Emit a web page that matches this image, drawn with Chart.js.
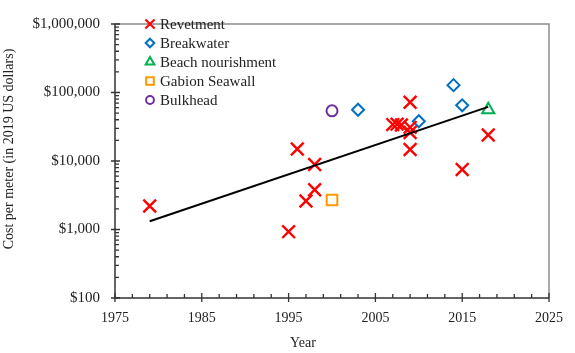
<!DOCTYPE html>
<html><head><meta charset="utf-8">
<script src="https://cdn.jsdelivr.net/npm/chart.js@4/dist/chart.umd.min.js"></script>
<style>html,body{margin:0;padding:0;background:#fff}#wrap{width:575px;height:353px}</style>
</head><body><div id="wrap"><canvas id="c" width="575" height="353"></canvas></div>
<script>
// ---- data ----
const seriesNames = ['Revetment','Breakwater','Beach nourishment','Gabion Seawall','Bulkhead'];
const revetmentYears  = [1979, 1995, 1996, 1997, 1998, 1998, 2007, 2007.5, 2008, 2009, 2009, 2009, 2009, 2015, 2018];
const revetmentCosts  = [2200, 930, 15000, 2600, 3800, 8900, 34000, 34500, 33500, 72000, 31000, 26000, 14700, 7500, 24000];
const breakwaterYears = [2003, 2010, 2014, 2015];
const breakwaterCosts = [56000, 38000, 128000, 65000];
const beachYears = [2018];
const beachCosts = [56000];
const gabionYears = [2000];
const gabionCosts = [2700];
const bulkheadYears = [2000];
const bulkheadCosts = [54000];
const trendYears = [1979, 2018];
const trendCosts = [1320, 61600];
const xTickYears = [1975, 1985, 1995, 2005, 2015, 2025];
const yTickValues = [100, 1000, 10000, 100000, 1000000];

const colors = ['#FF0000','#0070C0','#00B050','#FF9900','#7030A0'];
const styles = ['crossRot','rectRot','triangle','rect','circle'];
const radii = [9, 6, 7, 7.5, 5.5];

function pts(xs, ys){ return xs.map((x,i)=>({x:x, y:ys[i]})); }
const allSeries = [
  [revetmentYears, revetmentCosts],
  [breakwaterYears, breakwaterCosts],
  [beachYears, beachCosts],
  [gabionYears, gabionCosts],
  [bulkheadYears, bulkheadCosts]
];
const FONT = '"Liberation Serif", "Times New Roman", serif';

const datasets = allSeries.map((s,i)=>({
  label: seriesNames[i], data: pts(s[0], s[1]),
  pointStyle: styles[i], pointRadius: radii[i], pointHoverRadius: radii[i],
  borderColor: colors[i], backgroundColor: 'rgba(0,0,0,0)', pointBorderWidth: i === 0 ? 2.4 : 2,
  borderWidth: 2, showLine: false, order: 1
}));
datasets.push({
  type: 'line', label: 'trend', data: pts(trendYears, trendCosts),
  borderColor: '#000', borderWidth: 2, pointRadius: 0, showLine: true, fill: false, order: 0
});

const decor = {
  id: 'decor',
  afterDraw(chart){
    const ctx = chart.ctx, a = chart.chartArea;
    const xs = chart.scales.x, ys = chart.scales.y;
    ctx.save();
    // frame
    ctx.strokeStyle = '#8c8c8c'; ctx.lineWidth = 1.5;
    ctx.beginPath();
    ctx.moveTo(a.left, a.top); ctx.lineTo(a.right, a.top); ctx.lineTo(a.right, a.bottom);
    ctx.stroke();
    ctx.strokeStyle = '#333'; ctx.lineWidth = 1.5;
    ctx.beginPath();
    ctx.moveTo(a.left, a.top); ctx.lineTo(a.left, a.bottom); ctx.lineTo(a.right, a.bottom);
    ctx.stroke();
    // x ticks
    ctx.lineWidth = 1.3;
    ctx.beginPath();
    for (let yr = 1975; yr <= 2025; yr += 1) {
      const off = yr - 1975;
      if (off % 10 === 0) {
        const px = xs.getPixelForValue(yr);
        ctx.moveTo(px, a.bottom - 5); ctx.lineTo(px, a.bottom + 4);
      } else if (off % 2 === 0) {
        const px = xs.getPixelForValue(yr);
        ctx.moveTo(px, a.bottom - 4); ctx.lineTo(px, a.bottom);
      }
    }
    // y ticks
    for (let e = 2; e <= 6; e++) {
      const base = Math.pow(10, e);
      const py = ys.getPixelForValue(base);
      ctx.moveTo(a.left - 4, py); ctx.lineTo(a.left + 5, py);
      if (e < 6) {
        for (let m = 2; m <= 9; m++) {
          const p2 = ys.getPixelForValue(base * m);
          ctx.moveTo(a.left, p2); ctx.lineTo(a.left + 4, p2);
        }
      }
    }
    ctx.stroke();
    // axis titles
    ctx.fillStyle = '#222';
    ctx.font = '14px ' + FONT;
    ctx.textAlign = 'center'; ctx.textBaseline = 'middle';
    ctx.fillText('Year', 303, 343);
    ctx.save();
    ctx.translate(9, 149); ctx.rotate(-Math.PI/2);
    ctx.fillText('Cost per meter (in 2019 US dollars)', 0, 0);
    ctx.restore();
    // legend
    ctx.font = '15px ' + FONT;
    ctx.textAlign = 'left';
    seriesNames.forEach((n,i)=>{
      const y = 24 + i * 19;
      ctx.strokeStyle = colors[i]; ctx.fillStyle = 'rgba(0,0,0,0)'; ctx.lineWidth = 2;
      Chart.helpers.drawPoint(ctx, {pointStyle: styles[i], radius: radii[i]*0.72, rotation: 0, borderWidth: 2}, 150, y);
      ctx.fillStyle = '#222';
      ctx.fillText(n, 160, y + 1);
    });
    ctx.restore();
  }
};

new Chart(document.getElementById('c'), {
  type: 'scatter',
  data: { datasets },
  options: {
    responsive: false, animation: false, devicePixelRatio: 1,
    layout: { padding: { left: 0, top: 8, right: 17, bottom: 0 } },
    plugins: { legend: { display: false }, tooltip: { enabled: false } },
    scales: {
      x: {
        type: 'linear', min: 1975, max: 2025,
        grid: { display: false, drawTicks: false }, border: { display: false },
        afterBuildTicks: s => { s.ticks = xTickYears.map(v=>({value:v})); },
        afterFit: s => { s.height = 55; },
        ticks: { padding: 12, color: '#222', font: { family: FONT, size: 14 }, maxRotation: 0, autoSkip: false,
                 callback: v => String(v) }
      },
      y: {
        type: 'logarithmic', min: 100, max: 1000000,
        grid: { display: false, drawTicks: false }, border: { display: false },
        afterBuildTicks: s => { s.ticks = yTickValues.map(v=>({value:v, major:true})); },
        afterFit: s => { s.width = 115; },
        ticks: { padding: 15, color: '#222', font: { family: FONT, size: 15 }, autoSkip: false,
                 callback: v => '$' + Number(v).toLocaleString('en-US') }
      }
    }
  },
  plugins: [decor]
});
</script></body></html>
